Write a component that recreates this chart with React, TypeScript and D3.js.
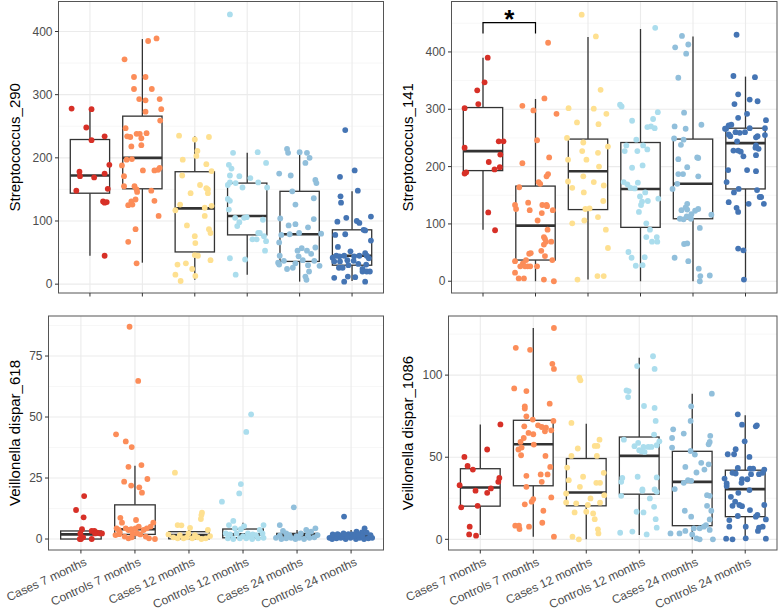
import React from "react";
import * as d3 from "d3";

const categories = ["Cases 7 months", "Controls 7 months", "Cases 12 months", "Controls 12 months", "Cases 24 months", "Controls 24 months"];
const colors = ["#D73027", "#FC8D59", "#FEE090", "#ABDDED", "#91BFDB", "#4575B4"];

// each point: [jitter offset in category units, value]
const strep290Points: number[][][] = [
  [[-0.35,278],[0.03,277],[-0.07,248],[0.03,228],[0.28,234],[0.37,189],[-0.2,178],[-0.19,171],[0.08,169],[0.28,175],[-0.26,148],[0.34,151],[0.25,131],[0.32,130],[0.28,129],[0.28,45]],
  [[0.11,385],[0.27,389],[-0.34,356],[-0.16,328],[0.06,328],[-0.16,309],[0.18,309],[-0.06,293],[0.06,291],[0.33,293],[0.06,273],[0.36,277],[0.34,259],[-0.32,247],[-0.29,234],[-0.23,233],[-0.11,238],[-0.05,238],[0.08,239],[-0.02,231],[-0.21,218],[-0.02,220],[-0.39,188],[-0.3,197],[-0.2,198],[0.01,180],[0.23,180],[0.3,181],[0.33,184],[-0.35,171],[-0.35,155],[-0.15,155],[-0.11,150],[-0.1,146],[-0.21,131],[-0.27,125],[-0.13,134],[0.17,148],[0.23,132],[0.31,108],[-0.13,87],[-0.27,67],[-0.11,33],[-0.19,126]],
  [[-0.3,235],[0.27,233],[0,229],[0.05,211],[0.03,203],[0.22,190],[-0.23,197],[-0.24,172],[0.32,179],[0.22,152],[0.1,157],[-0.08,144],[0.25,150],[0.25,144],[0.32,124],[-0.28,126],[-0.37,117],[0.19,121],[0.19,108],[-0.15,93],[0.27,87],[0.3,81],[0,76],[0.01,65],[0,46],[0.06,45],[0.3,38],[-0.33,31],[-0.17,33],[-0.05,24],[-0.37,15],[0.01,13],[-0.27,5]],
  [[-0.33,427],[-0.27,208],[0.2,209],[0.36,192],[-0.35,189],[-0.3,183],[-0.33,172],[-0.15,171],[0.06,168],[-0.33,161],[-0.22,160],[0.21,161],[-0.37,157],[-0.09,153],[0.38,153],[-0.37,135],[-0.33,132],[-0.35,118],[-0.23,105],[-0.06,105],[-0.01,106],[0.3,102],[-0.19,92],[-0.15,98],[0.21,81],[0.24,81],[0.18,71],[0.1,71],[0.32,76],[0.36,68],[0.34,53],[-0.33,41],[-0.04,39],[-0.22,15]],
  [[-0.24,214],[-0.22,208],[0,209],[0.14,208],[0.19,200],[0.11,192],[-0.39,175],[-0.17,172],[0.3,165],[0.32,160],[-0.14,147],[0.27,136],[-0.08,126],[-0.37,104],[0.27,103],[-0.21,93],[-0.08,95],[0.16,90],[-0.35,78],[-0.19,79],[-0.01,81],[0.41,80],[-0.39,66],[0.3,58],[0.04,57],[-0.04,53],[0.14,53],[0.22,48],[-0.38,45],[-0.02,44],[-0.3,37],[0.06,38],[-0.08,33],[0.28,37],[-0.41,34],[-0.39,31],[-0.13,26],[-0.24,24],[0.38,29],[0.16,30],[0.18,20],[0.11,12],[0.13,7]],
  [[-0.13,244],[-0.23,170],[0.05,180],[0.11,148],[-0.22,139],[-0.21,129],[-0.28,99],[-0.11,105],[0.09,100],[0.14,97],[0.36,107],[-0.32,78],[-0.13,79],[0.22,86],[0.25,85],[0.36,69],[-0.27,59],[-0.03,52],[-0.37,42],[-0.3,45],[-0.24,44],[-0.15,45],[0.04,44],[0.14,45],[0.25,49],[0.28,45],[0.32,41],[-0.23,36],[-0.09,38],[0.03,37],[-0.34,36],[-0.25,26],[-0.18,26],[-0.07,30],[0.12,32],[0.27,31],[0.2,24],[-0.34,10],[-0.15,4],[0.06,11],[0.2,20],[0.28,20],[0.34,20],[0.25,4],[-0.08,12]],
];
// [lower whisker, q1, median, q3, upper whisker]
const strep290Boxes = [[45,144,172,229,277],[34,151,200,266,388],[7,51,120,178,234],[15,78,108,160,208],[4,36,79,147,210],[5,30,45,86,147]];

const strep141Points: number[][][] = [
  [[0.09,390],[0.03,347],[-0.11,333],[-0.09,309],[-0.35,302],[0.3,244],[0.39,244],[-0.35,233],[0.33,221],[0.11,208],[0.32,199],[0.22,195],[-0.35,188],[-0.32,190],[0.1,120],[0.23,89]],
  [[0.24,416],[-0.25,306],[-0.04,298],[0.17,319],[0.4,292],[0.03,246],[-0.25,206],[0.26,216],[0.24,187],[0.21,183],[0.06,173],[0.09,170],[-0.31,164],[-0.39,133],[-0.37,126],[-0.14,137],[-0.11,124],[0.13,133],[0.21,133],[0.22,131],[0.33,124],[0.12,119],[0.04,106],[0.23,90],[0.16,77],[0.18,74],[0.2,69],[0.3,69],[0.16,64],[0.11,53],[-0.12,48],[-0.09,49],[0.32,37],[-0.18,37],[-0.39,35],[0.18,44],[-0.24,31],[-0.29,26],[-0.2,26],[-0.15,26],[-0.1,26],[0.03,26],[-0.39,15],[-0.32,5],[-0.22,5],[0.16,3],[0.35,0]],
  [[-0.12,465],[0.15,427],[0.24,334],[-0.37,302],[0.11,301],[0.35,292],[-0.21,277],[0.2,274],[-0.4,250],[-0.09,242],[0.38,235],[-0.11,227],[0.19,224],[-0.03,212],[-0.38,212],[0.21,200],[-0.09,183],[-0.38,174],[0.3,167],[0.11,173],[-0.3,163],[-0.08,155],[0.29,140],[-0.05,126],[0.03,127],[0.19,112],[-0.07,106],[-0.3,101],[0.34,90],[0.38,58],[-0.2,3],[0.18,9],[0.3,9]],
  [[0.28,442],[-0.39,308],[-0.36,305],[-0.16,280],[0.33,295],[0.24,283],[0.13,269],[0.2,270],[0.27,267],[-0.08,247],[-0.27,237],[0.05,237],[-0.3,227],[-0.06,227],[0.13,230],[-0.16,198],[0.04,202],[-0.32,173],[-0.05,172],[-0.25,169],[-0.19,163],[-0.11,162],[0.09,155],[0.34,144],[-0.01,148],[0.03,139],[0.14,140],[0.01,133],[-0.03,121],[0.11,101],[0.18,90],[0.11,77],[0.31,77],[0.32,69],[0.22,69],[-0.23,51],[-0.17,41],[0.08,42],[-0.09,27],[0.04,28]],
  [[-0.21,428],[-0.34,408],[-0.09,413],[-0.13,397],[-0.28,355],[-0.17,294],[-0.35,270],[-0.14,266],[0.16,273],[-0.36,249],[-0.18,247],[-0.23,238],[-0.28,213],[0.08,216],[0.1,215],[-0.11,199],[0.1,183],[-0.28,187],[-0.19,187],[-0.3,170],[-0.39,161],[-0.11,135],[-0.14,129],[-0.22,124],[-0.11,125],[0.1,126],[0.04,123],[-0.03,117],[0.35,116],[-0.25,109],[-0.18,108],[-0.04,109],[-0.12,113],[0.13,93],[-0.17,65],[-0.11,66],[-0.35,41],[-0.09,35],[0.11,22],[0.14,9],[0.32,10],[0.13,0]],
  [[-0.17,430],[-0.23,358],[0.18,356],[-0.14,326],[-0.21,309],[0.08,317],[0.23,314],[0.03,292],[-0.14,285],[0.39,281],[-0.37,266],[-0.27,273],[-0.32,272],[0.08,267],[0.37,267],[-0.39,266],[-0.19,260],[-0.11,259],[-0.01,260],[-0.32,256],[-0.29,253],[0.23,253],[0.2,251],[0.37,255],[-0.16,244],[-0.23,228],[-0.14,228],[-0.09,226],[0.2,237],[0.19,233],[0.25,231],[0.2,220],[-0.04,218],[-0.33,194],[0.03,194],[0.2,192],[-0.36,173],[-0.22,155],[-0.13,161],[0.22,159],[-0.17,128],[-0.14,121],[-0.32,138],[0.06,135],[0.27,147],[0.3,147],[0.35,135],[-0.14,57],[-0.04,54],[-0.03,3]],
];
const strep141Boxes = [[90,193,227,303,390],[0,37,97,166,318],[3,125,192,248,426],[0,94,161,242,440],[0,109,170,248,427],[3,161,241,267,357]];

const veil618Points: number[][][] = [
  [[0.06,17.6],[-0.09,11.9],[0.05,8.9],[0.02,4],[0.2,3.3],[0.25,3.3],[0.3,2.6],[0.36,2.3],[0.39,2.3],[-0.01,2.3],[0,0],[0.2,0],[-0.02,0],[0.04,0.7],[0.26,2.3]],
  [[-0.1,87],[0.06,64.8],[-0.35,42.9],[-0.17,40],[-0.06,37.7],[-0.12,29.6],[0.12,30.3],[0.23,24.6],[-0.2,23.5],[-0.07,21.9],[0.08,21.2],[0.13,19],[-0.27,8.7],[-0.24,6.7],[0.02,7.8],[0.34,6.7],[-0.34,4.4],[-0.3,3.7],[-0.17,4.4],[-0.12,3.7],[-0.07,4],[0.01,4.4],[0.07,5.1],[0.16,3.7],[0.22,4.4],[0.29,5.1],[-0.36,1.6],[-0.29,2],[-0.19,1],[-0.12,0.3],[-0.06,0.7],[0.04,2.3],[0.1,1.9],[0.2,1],[0.26,0.3],[0.37,0],[-0.04,2.3],[-0.28,2.6]],
  [[-0.26,27.2],[0.24,10.8],[0.23,9.8],[0.22,8.2],[-0.21,5.7],[-0.14,5.6],[0.02,4.6],[0.35,3.7],[-0.38,1.9],[-0.29,0.7],[-0.21,0.3],[-0.1,0.3],[-0.01,2.3],[0.06,0.3],[0.16,0.7],[0.23,0],[0.31,0.3],[0.39,1.2],[-0.04,0.7],[-0.17,1.6],[0.11,1.6]],
  [[0.15,51.1],[0.06,43.9],[-0.04,22.5],[-0.07,18.7],[-0.39,15.3],[-0.18,7.4],[0.02,5.3],[-0.26,5.7],[0.38,5.7],[-0.15,4.4],[-0.04,4],[0.31,3.7],[-0.32,2.3],[-0.24,1.9],[-0.12,2.3],[0.09,2.3],[0.18,1.9],[0.24,1.6],[0.36,2.3],[-0.28,0.3],[-0.18,0],[-0.06,0.3],[0.06,0.3],[0.17,0],[0.28,0.3],[0.38,0.5],[0,1.2],[0.12,1]],
  [[-0.06,13],[-0.32,5.7],[0.34,4.4],[-0.26,3.3],[0.17,3.7],[0.26,3],[-0.2,2.3],[0.07,2.3],[-0.39,0.5],[-0.29,0],[-0.2,0.3],[-0.11,0.5],[-0.03,0],[0.04,0.5],[0.13,0],[0.23,0.5],[0.32,0.7],[0.38,1.6],[-0.14,1.6],[-0.01,1.2],[0.2,1.6],[-0.32,1.4]],
  [[-0.13,9.2],[0.25,4.4],[0.1,3],[0.2,2.7],[0.29,2.6],[-0.05,2],[0.02,1.9],[-0.22,1.6],[-0.31,1.2],[-0.4,0.5],[-0.35,0],[-0.27,0.3],[-0.19,0.5],[-0.1,0],[-0.01,0.5],[0.09,0],[0.16,0.5],[0.24,0],[0.32,0.3],[0.39,0.5],[0.36,1.6],[-0.16,1.2],[0.06,1.2],[-0.34,1.9],[0.21,1.2],[0.13,1.6],[-0.25,2],[-0.07,1],[-0.14,2.3]],
];
const veil618Boxes = [[0,0,1.9,3.3,4.2],[0,1.9,4,14,30],[0,0.1,1.6,3,5.3],[0,0.5,1.9,4.1,6.7],[0,0.7,1.6,2.3,3.7],[0,0.5,1.2,2,3.7]];

const veil1086Points: number[][][] = [
  [[0.38,70],[0.13,54.7],[-0.3,50.2],[-0.24,44.7],[-0.14,42.5],[-0.39,33],[-0.09,29.6],[0.2,31],[0.34,35],[0.36,37.4],[0.13,28.3],[-0.36,19.4],[-0.05,20.4],[-0.2,7.7],[-0.21,3],[-0.08,2.2]],
  [[0.39,128.7],[-0.33,116.6],[-0.06,115.4],[0.36,106.9],[0.39,103.8],[-0.36,91.9],[-0.13,90.3],[0.31,82.6],[-0.16,81],[-0.16,79.6],[-0.13,74.9],[-0.01,72.9],[0.38,72.1],[0.09,69.4],[0.16,68.4],[0.24,68],[-0.17,68.8],[0.34,66.4],[0.22,65.8],[0,64],[-0.09,64.8],[-0.18,61.7],[-0.24,59.3],[-0.28,54.7],[-0.22,55.9],[-0.23,51.2],[0.23,50.8],[0.32,44.1],[0.01,57.7],[0.16,35],[0.14,39.5],[0.27,39.5],[-0.13,38.7],[-0.13,32],[0.34,25.5],[0,24.5],[-0.03,22.9],[-0.16,21.3],[0.19,17.4],[0.17,10.1],[-0.34,8.3],[-0.27,8.3],[-0.08,7.7],[-0.26,6.3],[0.39,1.6]],
  [[-0.13,98.4],[-0.11,96.8],[-0.28,70.9],[0.25,60.7],[0.16,56.9],[0.21,56.9],[-0.16,55.3],[-0.28,50.8],[0.2,50.8],[-0.36,43.7],[0.33,40.5],[-0.06,38.1],[-0.33,36],[0.19,34.4],[0.26,34.4],[-0.12,32],[-0.38,27.9],[0.34,26.9],[0.08,24.9],[-0.38,22.5],[-0.19,21.9],[0.03,20.9],[0.26,22.3],[-0.22,16.4],[0,16.8],[0.13,15.8],[0.16,12.3],[0.22,6.1],[0.23,3.6],[-0.26,1.6],[-0.14,0]],
  [[0.26,111.5],[0.29,103.8],[-0.04,105.5],[-0.24,90.7],[-0.2,90.3],[-0.21,86.6],[0.09,81.2],[0.29,80],[0.31,72.1],[0.28,63.8],[-0.29,60.7],[-0.02,58.7],[-0.09,56.7],[0.08,56.3],[0.17,56.3],[0.23,56.3],[0.38,59.7],[0,54.3],[0.04,53.6],[0.1,53.2],[0.33,57.3],[-0.32,37.4],[-0.03,38.1],[0.33,37.7],[-0.34,35],[0.06,30.4],[0.06,29.6],[0.29,30.4],[0.33,28.9],[-0.34,26.5],[0.2,24.9],[0.28,19.8],[-0.05,16.8],[0.08,16.4],[0.31,12.3],[0.33,7.1],[-0.36,4],[-0.13,4.7],[0.14,3]],
  [[0.37,88.7],[-0.02,81],[-0.03,72.1],[-0.36,67],[-0.16,64.4],[0.34,63],[-0.38,61.7],[0.33,59.3],[0.31,57.9],[-0.38,55.9],[-0.03,53.8],[0.05,51.6],[0.17,46.6],[0.31,45.7],[-0.13,44.1],[0.23,42.5],[0.08,40.7],[-0.08,36],[-0.02,35.6],[-0.16,34.4],[-0.33,30.6],[0.28,26.9],[0.33,26.5],[0.28,20.4],[-0.14,17.4],[0.36,17.4],[-0.02,13.8],[0.33,12.1],[0.26,8.7],[0.22,7.7],[0.14,6.7],[0.03,6.7],[0.33,5.7],[-0.13,5.1],[-0.24,3.6],[-0.41,3.6],[0.08,0.6],[0.14,0],[0.39,0],[0,3]],
  [[-0.14,76.1],[-0.06,69.8],[0.2,68.8],[0.22,69.4],[-0.01,59.7],[-0.33,51.8],[-0.21,51.8],[-0.18,54.9],[0.08,50.2],[-0.14,43.5],[0.09,43.1],[0.15,43.1],[0.36,42.5],[-0.39,37],[-0.35,34],[-0.24,40.5],[-0.18,40.1],[-0.06,36.6],[0.04,36.6],[0.11,39.7],[0.26,39.7],[0.33,40.5],[-0.35,32.4],[-0.07,34.4],[0.08,30],[-0.13,28.3],[-0.27,25.9],[-0.19,22.9],[-0.11,20.9],[-0.06,20.2],[-0.24,20.4],[0.09,17.8],[0.36,20.9],[0.23,14.8],[0.2,13.8],[-0.14,14.2],[-0.3,11.7],[0.39,12.1],[-0.3,7.7],[0.01,7.7],[0.26,7.1],[0.33,7.7],[0.24,5.1],[-0.24,0],[-0.36,0.4],[0.01,0.6],[0.39,0.4]],
];
const veil1086Boxes = [[2.6,20.2,31.6,43,70],[1.6,32.6,57.9,72.5,128.7],[0,20.4,28.5,49.2,70.4],[2.6,27.5,50.8,62.3,110.5],[0,8.3,35,53.6,88.7],[0,13.8,30.6,42.1,75.5]];

const strep290Ticks = [0, 100, 200, 300, 400];
const strep141Ticks = [0, 100, 200, 300, 400];
const veil618Ticks = [0, 25, 50, 75];
const veil1086Ticks = [0, 50, 100];

const FONT = "'Liberation Sans', Arial, Helvetica, sans-serif";

type PanelProps = {
  title: string; points: number[][][]; boxes: number[][]; ticks: number[];
  domain: [number, number]; left: number; right: number; top: number; bottom: number;
  titleX: number; xLabels: boolean; sig?: boolean;
};

function Panel(p: PanelProps) {
  const x = d3.scalePoint<string>().domain(categories).range([p.left, p.right]).padding(0.6);
  const step = x.step();
  const y = d3.scaleLinear().domain(p.domain).range([p.bottom, p.top]);
  const tickStep = p.ticks[1] - p.ticks[0];
  const minor: number[] = [];
  for (let v = p.ticks[0] - tickStep / 2; v <= p.domain[1]; v += tickStep) if (v >= p.domain[0]) minor.push(v);
  const bw = step * 0.75;
  return (
    <g>
      <rect x={p.left} y={p.top} width={p.right - p.left} height={p.bottom - p.top} fill="#fff" />
      {minor.map((v) => <line key={"mi" + v} x1={p.left} x2={p.right} y1={y(v)} y2={y(v)} stroke="#F2F2F2" strokeWidth={0.6} />)}
      {p.ticks.map((v) => <line key={"ma" + v} x1={p.left} x2={p.right} y1={y(v)} y2={y(v)} stroke="#EBEBEB" strokeWidth={1.1} />)}
      {categories.map((c) => <line key={"vg" + c} x1={x(c)} x2={x(c)} y1={p.top} y2={p.bottom} stroke="#EBEBEB" strokeWidth={1.1} />)}
      {p.boxes.map((b, i) => {
        const cx = x(categories[i])!;
        return (
          <g key={"b" + i} stroke="#333333" fill="#fff">
            <line x1={cx} x2={cx} y1={y(b[3])} y2={y(b[4])} strokeWidth={1.3} />
            <line x1={cx} x2={cx} y1={y(b[1])} y2={y(b[0])} strokeWidth={1.3} />
            <rect x={cx - bw / 2} y={y(b[3])} width={bw} height={Math.max(0, y(b[1]) - y(b[3]))} strokeWidth={1.3} fill="#fff" />
            <line x1={cx - bw / 2} x2={cx + bw / 2} y1={y(b[2])} y2={y(b[2])} strokeWidth={2.6} />
          </g>
        );
      })}
      {p.points.map((grp, i) => grp.map((pt, j) => (
        <circle key={"p" + i + "-" + j} cx={x(categories[i])! + pt[0] * step} cy={y(pt[1])} r={2.9} fill={colors[i]} />
      )))}
      <rect x={p.left} y={p.top} width={p.right - p.left} height={p.bottom - p.top} fill="none" stroke="#555555" strokeWidth={1} />
      {p.ticks.map((v) => (
        <g key={"yt" + v}>
          <line x1={p.left - 3.5} x2={p.left} y1={y(v)} y2={y(v)} stroke="#333" strokeWidth={1} />
          <text x={p.left - 6} y={y(v)} dy="0.35em" textAnchor="end" fontSize={12} fill="#4D4D4D" fontFamily={FONT}>{v}</text>
        </g>
      ))}
      {categories.map((c) => (
        <g key={"xt" + c}>
          <line x1={x(c)} x2={x(c)} y1={p.bottom} y2={p.bottom + 3.5} stroke="#333" strokeWidth={1} />
          {p.xLabels && (
            <text transform={`translate(${x(c)! + 3},${p.bottom + 7}) rotate(-25)`} textAnchor="end" dy="0.72em" fontSize={12} fill="#4D4D4D" fontFamily={FONT}>{c}</text>
          )}
        </g>
      ))}
      <text transform={`translate(${p.titleX},${(p.top + p.bottom) / 2}) rotate(-90)`} textAnchor="middle" dy="0.35em" fontSize={15} fill="#000" fontFamily={FONT}>{p.title}</text>
      {p.sig && (() => {
        const x1 = x(categories[0])!, x2 = x(categories[1])!;
        const yt = y(451), yb = y(432);
        return (
          <g>
            <path d={`M${x1},${yb}V${yt}H${x2}V${yb}`} fill="none" stroke="#000" strokeWidth={1.2} />
            <text x={(x1 + x2) / 2} y={yt + 5} textAnchor="middle" fontSize={26} fontWeight="bold" fontFamily={FONT}>*</text>
          </g>
        );
      })()}
    </g>
  );
}

export default function App() {
  return (
    <svg width={780} height={612} style={{ position: "absolute", left: 0, top: 0, background: "#fff" }}>
      <rect width={780} height={612} fill="#fff" />
      <Panel title="Streptococcus_290" points={strep290Points} boxes={strep290Boxes} ticks={strep290Ticks} domain={[-14, 447.5]} left={58.5} right={383.5} top={1.5} bottom={293} titleX={15} xLabels={false} />
      <Panel title="Streptococcus_141" points={strep141Points} boxes={strep141Boxes} ticks={strep141Ticks} domain={[-20.5, 488]} left={451.5} right={777} top={1.5} bottom={293} titleX={408} xLabels={false} sig={true} />
      <Panel title="Veillonella dispar_618" points={veil618Points} boxes={veil618Boxes} ticks={veil618Ticks} domain={[-4.5, 91.4]} left={48.5} right={383.5} top={316} bottom={550} titleX={15} xLabels={true} />
      <Panel title="Veillonella dispar_1086" points={veil1086Points} boxes={veil1086Boxes} ticks={veil1086Ticks} domain={[-6.5, 136]} left={448.5} right={777} top={316} bottom={550} titleX={408} xLabels={true} />
    </svg>
  );
}
